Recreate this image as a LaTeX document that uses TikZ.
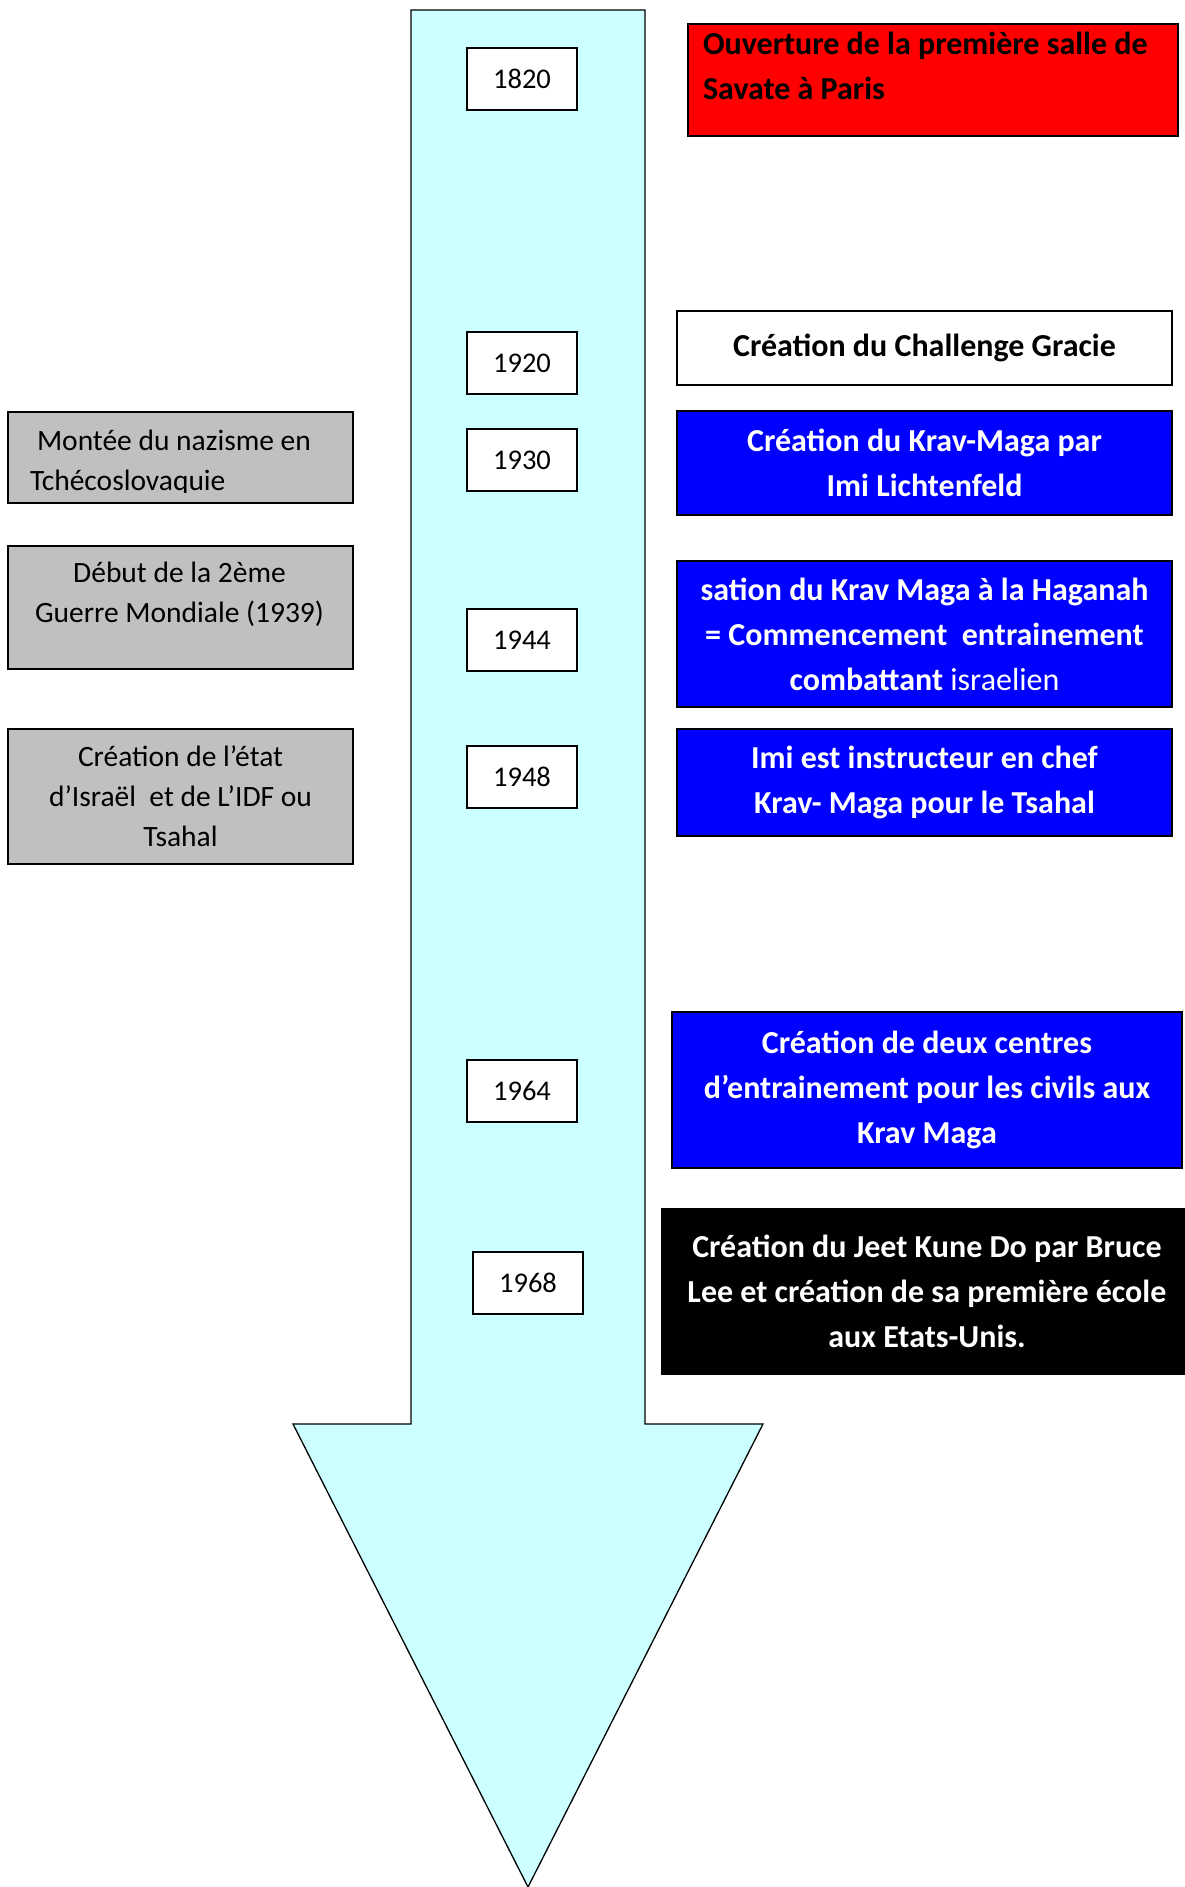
\documentclass[tikz,border=0pt]{standalone}
\usepackage{fontspec}
\setmainfont{Carlito}
\newcommand\tlfont{\fontsize{32}{45}\selectfont}
\newcommand\tlyfont{\fontsize{28.5}{40}\selectfont}
\newcommand\tlgfont{\fontsize{29.5}{40}\selectfont}
\definecolor{arrowcyan}{RGB}{204,255,255}
\definecolor{tlblue}{RGB}{0,0,255}
\definecolor{tlred}{RGB}{255,0,0}
\definecolor{tlgray}{RGB}{192,192,192}
\begin{document}
\begin{tikzpicture}[x=1pt,y=-1pt,
  box/.style={draw=black, line width=2pt, inner sep=0pt, anchor=north west, align=center},
  yearbox/.style={box, fill=white, minimum width=110pt, minimum height=62pt, font=\tlyfont},
  bluebox/.style={box, fill=tlblue, text=white, font=\tlfont\bfseries},
  graybox/.style={box, fill=tlgray, font=\tlgfont},
  plain/.style={inner sep=0pt, outer sep=0pt}]
\useasboundingbox (0,0) rectangle (1184,1887);
% big arrow
\filldraw[fill=arrowcyan, draw=black, line width=1.3pt, line join=miter]
  (411,10) -- (645,10) -- (645,1424) -- (763,1424) -- (528,1887) -- (293,1424) -- (411,1424) -- cycle;
% years
\node[yearbox] (y1820) at (466,47) {1820};
\node[yearbox] (y1920) at (466,331) {1920};
\node[yearbox] (y1930) at (466,428) {1930};
\node[yearbox] (y1944) at (466,608) {1944};
\node[yearbox] (y1948) at (466,745) {1948};
\node[yearbox] (y1964) at (466,1059) {1964};
\node[yearbox] (y1968) at (472,1251) {1968};
% red box
\node[box, fill=tlred, minimum width=490pt, minimum height=112pt] (savate) at (687,23) {};
\node[plain, anchor=base west, align=left, font=\tlfont\bfseries] (savatetxt) at (703,99)
  {Ouverture de la première salle de\\Savate à Paris};
% white box
\node[box, fill=white, minimum width=495pt, minimum height=74pt, font=\tlfont\bfseries] (gracie) at (676,310)
  {Création du Challenge Gracie};
% blue boxes
\node[bluebox, minimum width=495pt, minimum height=104pt] (kmimi) at (676,410)
  {Création du Krav-Maga par\\Imi Lichtenfeld};
\node[bluebox, minimum width=495pt, minimum height=146pt] (haganah) at (676,560)
  {sation du Krav Maga à la Haganah\\= Commencement\ \ entrainement\\combattant \mdseries israelien};
\node[bluebox, minimum width=495pt, minimum height=107pt] (instr) at (676,728)
  {Imi est instructeur en chef\\Krav- Maga pour le Tsahal};
\node[bluebox, minimum width=510pt, minimum height=156pt] (centres) at (671,1011)
  {Création de deux centres\\d’entrainement pour les civils aux\\Krav Maga};
% black box
\node[box, fill=black, text=white, minimum width=530pt, minimum height=165pt, font=\tlfont\bfseries] (jkd) at (661,1208)
  {Création du Jeet Kune Do par Bruce\\Lee et création de sa première école\\aux Etats-Unis.};
% gray boxes
\node[graybox, minimum width=345pt, minimum height=91pt] (nazi) at (7,411) {};
\begin{scope}
  \clip (8,412) rectangle (351,492);
  \node[plain, anchor=base west, align=left, font=\tlgfont] (nazitxt) at (30,490)
    {\hspace{7pt}Montée du nazisme en\\Tchécoslovaquie};
\end{scope}
\node[graybox, minimum width=345pt, minimum height=123pt] (ww2) at (7,545) {};
\node[plain, anchor=base, align=center, font=\tlgfont] (ww2txt) at (179.5,622)
  {Début de la 2ème\\Guerre Mondiale (1939)};
\node[graybox, minimum width=345pt, minimum height=135pt] (israel) at (7,728)
  {Création de l’état\\d’Israël\ \ et de L’IDF ou\\Tsahal};
\end{tikzpicture}
\end{document}
